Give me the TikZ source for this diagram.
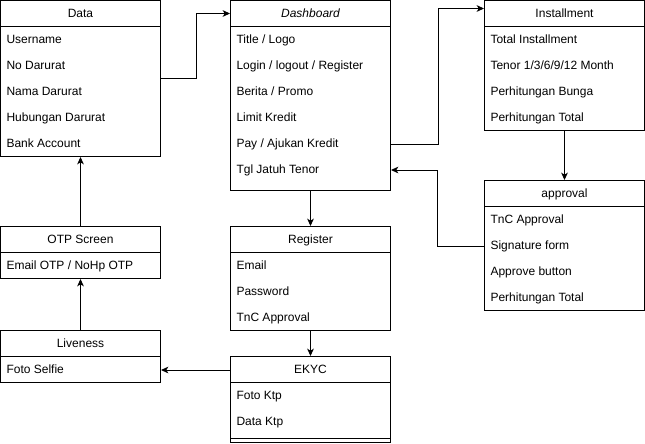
\documentclass[tikz,border=0pt]{standalone}
\usepackage{fontspec}
\setmainfont{Liberation Sans}
\usetikzlibrary{arrows.meta}
\tikzstyle{tablebox} = [draw=black, rectangle, anchor=north west, inner sep=0pt,
    minimum width=120pt, text height=7.3pt, text depth=1.4pt]
\tikzstyle{tablehead} = [tablebox, minimum height=19.5pt]
\tikzstyle{tableitem} = [anchor=west, inner sep=0pt, text height=7.3pt, text depth=1.4pt]
\tikzstyle{flow} = [-{Stealth[length=5.5pt, width=5pt, inset=1.5pt]}]

\begin{document}
\begin{tikzpicture}[x=0.75pt, y=-0.75pt, line width=0.75pt,
    font=\fontsize{9}{11}\selectfont]
    \useasboundingbox (0,0) rectangle (645,443);
    % Data
    \node[tablebox, minimum height=117pt] (data) at (0,0) {};
    \node[tablehead] (datahead) at (0,0) {Data};
    \foreach \t [count=\i] in {Username, No Darurat, Nama Darurat, Hubungan Darurat, Bank Account}
        \node[tableitem] (data\i) at (6, 14+26*\i) {\t};
    % Dashboard
    \node[tablebox, minimum height=142.5pt] (dash) at (230,0) {};
    \node[tablehead] (dashhead) at (230,0) {\itshape Dashboard};
    \foreach \t [count=\i] in {Title / Logo, Login / logout / Register, Berita / Promo, Limit Kredit, Pay / Ajukan Kredit, Tgl Jatuh Tenor}
        \node[tableitem] (dash\i) at (236, 14+26*\i) {\t};
    % Installment
    \node[tablebox, minimum height=97.5pt] (inst) at (484,0) {};
    \node[tablehead] (insthead) at (484,0) {Installment};
    \foreach \t [count=\i] in {Total Installment, Tenor 1/3/6/9/12 Month, Perhitungan Bunga, Perhitungan Total}
        \node[tableitem] (inst\i) at (490, 14+26*\i) {\t};
    % approval
    \node[tablebox, minimum height=97.5pt] (appr) at (484,180) {};
    \node[tablehead] (apprhead) at (484,180) {approval};
    \foreach \t [count=\i] in {TnC Approval, Signature form, Approve button, Perhitungan Total}
        \node[tableitem] (appr\i) at (490, 194+26*\i) {\t};
    % Register
    \node[tablebox, minimum height=78pt] (reg) at (230,226) {};
    \node[tablehead] (reghead) at (230,226) {Register};
    \foreach \t [count=\i] in {Email, Password, TnC Approval}
        \node[tableitem] (reg\i) at (236, 240+26*\i) {\t};
    % EKYC
    \node[tablebox, minimum height=64.5pt] (ekyc) at (230,356) {};
    \node[tablehead] (ekychead) at (230,356) {EKYC};
    \foreach \t [count=\i] in {Foto Ktp, Data Ktp}
        \node[tableitem] (ekyc\i) at (236, 370+26*\i) {\t};
    \draw ([yshift=3.75pt]ekyc.south west) -- ([yshift=3.75pt]ekyc.south east);
    % OTP Screen
    \node[tablebox, minimum height=39pt] (otp) at (0,226) {};
    \node[tablehead] (otphead) at (0,226) {OTP Screen};
    \node[tableitem] (otp1) at (6, 266) {Email OTP / NoHp OTP};
    % Liveness
    \node[tablebox, minimum height=39pt] (live) at (0,330) {};
    \node[tablehead] (livehead) at (0,330) {Liveness};
    \node[tableitem] (live1) at (6, 370) {Foto Selfie};

    % connectors
    \draw[flow] (data.east) -- ++(35,0) |- (dashhead.west);
    \draw[flow] (dash5 -| dash.east) -- ++(47,0) |- ([yshift=3.75pt]insthead.west);
    \draw[flow] (inst.south) -- (appr.north);
    \draw[flow] (appr2 -| appr.west) -- ++(-47,0) |- (dash6 -| dash.east);
    \draw[flow] (dash.south) -- (reg.north);
    \draw[flow] (reg.south) -- (ekyc.north);
    \draw[flow] (live1 -| ekyc.west) -- (live1 -| live.east);
    \draw[flow] (live.north) -- (otp.south);
    \draw[flow] (otp.north) -- (data.south);
\end{tikzpicture}
\end{document}
